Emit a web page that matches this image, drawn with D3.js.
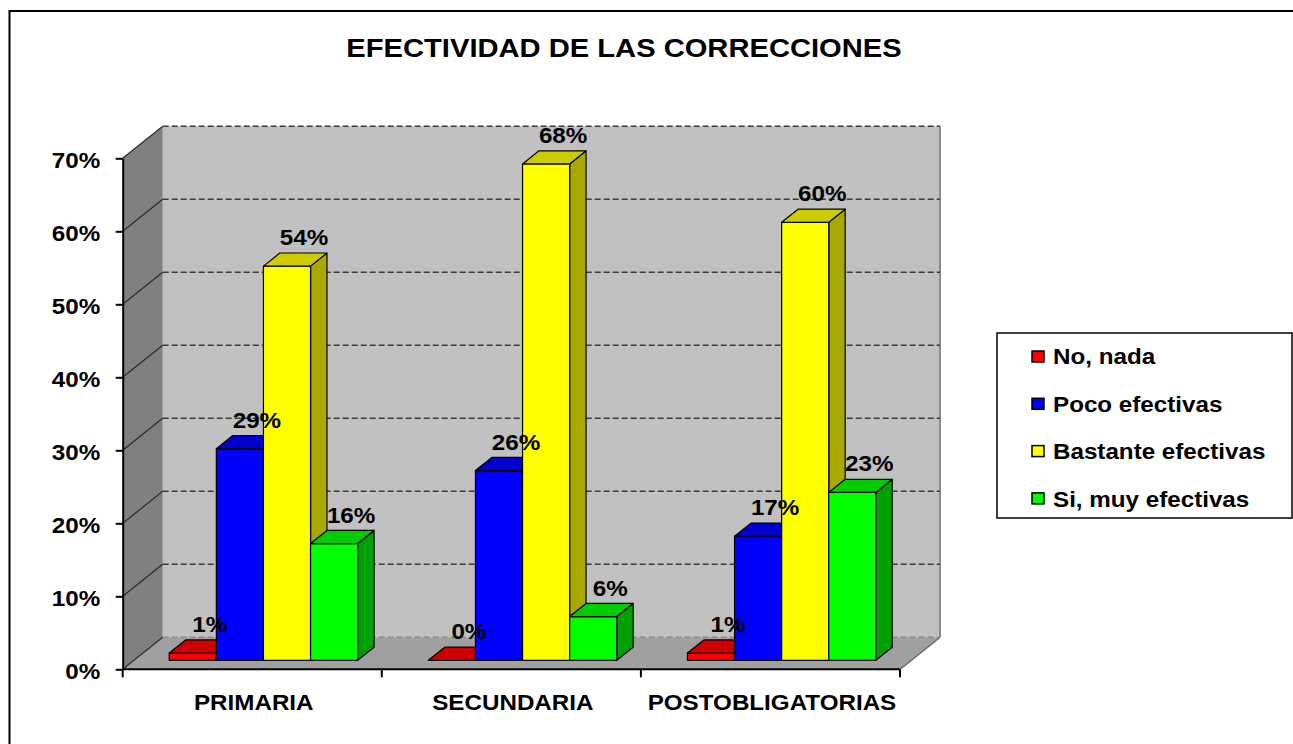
<!DOCTYPE html>
<html><head><meta charset="utf-8">
<script src="https://cdn.jsdelivr.net/npm/d3@7"></script>
<style>
body{margin:0;background:#fff;}
svg{display:block;}
text{font-family:"Liberation Sans",Arial,sans-serif;font-weight:bold;fill:#000;}
</style>
</head><body>
<svg id="c" width="1293" height="744"></svg>
<script>
// ---------- data ----------
const title = "EFECTIVIDAD DE LAS CORRECCIONES";
const categories = ["PRIMARIA", "SECUNDARIA", "POSTOBLIGATORIAS"];
const seriesNames = ["No, nada", "Poco efectivas", "Bastante efectivas", "Si, muy efectivas"];
const noNada = [0.01, 0.00, 0.01];
const pocoEfectivas = [0.29, 0.26, 0.17];
const bastanteEfectivas = [0.54, 0.68, 0.60];
const siMuyEfectivas = [0.16, 0.06, 0.23];
const yTicks = [0, 0.1, 0.2, 0.3, 0.4, 0.5, 0.6, 0.7];

// ---------- style ----------
const seriesValues = [noNada, pocoEfectivas, bastanteEfectivas, siMuyEfectivas];
const frontCol = ["#ff0000", "#0000ff", "#ffff00", "#00ff00"];
const topCol   = ["#cc0000", "#0000cc", "#cccc00", "#00cc00"];
const sideCol  = ["#a00000", "#0000a0", "#a8a800", "#00a000"];
const SX = 1.1; // horizontal text stretch

const svg = d3.select("#c");

// ---------- layout ----------
const X0 = 122.7, X1 = 900, Y0 = 669.3, Y1 = 158.3;
const DX = 40, DY = -32;          // wall depth
const F0 = 0.28, FT = 0.41;        // bar front depth fraction, bar thickness fraction
const bdx = DX * FT, bdy = DY * FT;

const x = d3.scaleBand().domain(categories).range([X0, X1]).paddingInner(0).paddingOuter(0);
const xs = d3.scaleBand().domain(seriesNames).range([0, x.bandwidth()]).paddingInner(0).paddingOuter(0.75);
const yFront = d3.scaleLinear().domain([0, 0.7]).range([Y0, Y1]);
const yBar = d3.scaleLinear().domain([0, 0.7]).range([Y0 + F0 * DY, Y1 + F0 * DY]);

function txt(g, tx, ty, s, size, anchor) {
  return g.append("text")
    .attr("transform", `translate(${tx},${ty}) scale(${SX},1)`)
    .attr("text-anchor", anchor)
    .style("font-size", size + "px")
    .text(s);
}
const pts = a => a.map(p => p.join(",")).join(" ");

// ---------- walls ----------
const yb0 = yFront(0) + DY, yb1 = yFront(0.7) + DY;
svg.append("rect").attr("x", X0 + DX).attr("y", yb1).attr("width", X1 - X0).attr("height", yb0 - yb1)
  .attr("fill", "#c0c0c0");
svg.append("polygon").attr("points", pts([[X0, yFront(0.7)], [X0 + DX, yb1], [X0 + DX, yb0], [X0, yFront(0)]]))
  .attr("fill", "#808080");
svg.append("polygon").attr("points", pts([[X0, Y0], [X1, Y0], [X1 + DX, Y0 + DY], [X0 + DX, Y0 + DY]]))
  .attr("fill", "#a0a0a0");
// back wall right edge
svg.append("line").attr("x1", X1 + DX).attr("x2", X1 + DX).attr("y1", yb1).attr("y2", yb0)
  .attr("stroke", "#8a8a8a").attr("stroke-width", 2);
// floor right edge
svg.append("line").attr("x1", X1).attr("y1", Y0).attr("x2", X1 + DX).attr("y2", Y0 + DY)
  .attr("stroke", "#707070").attr("stroke-width", 1.5);

// gridlines
const grid = svg.append("g");
yTicks.forEach(t => {
  const yf = yFront(t);
  grid.append("line").attr("x1", X0 + DX).attr("x2", X1 + DX).attr("y1", yf + DY).attr("y2", yf + DY)
    .attr("stroke", t === 0 ? "#8a8a8a" : "#3a3a3a").attr("stroke-width", 1.6).attr("stroke-dasharray", "6,3");
  grid.append("line").attr("x1", X0).attr("y1", yf).attr("x2", X0 + DX).attr("y2", yf + DY)
    .attr("stroke", "#2a2a2a").attr("stroke-width", 1.2);
});

// ---------- axes ----------
const yAxis = svg.append("g").attr("transform", `translate(${X0},0)`)
  .call(d3.axisLeft(yFront).tickValues(yTicks).tickFormat(d3.format(".0%")).tickSize(7).tickSizeOuter(0));
yAxis.select(".domain").attr("stroke", "#000").attr("stroke-width", 2);
yAxis.selectAll(".tick line").attr("stroke", "#000").attr("stroke-width", 2);
yAxis.selectAll(".tick text").attr("x", null).attr("dy", null).attr("fill", "#000")
  .attr("transform", `translate(-22.5,9.5) scale(${SX},1)`)
  .style("font-size", "22px").style("font-family", '"Liberation Sans",Arial,sans-serif').style("font-weight", "bold");

// category axis
svg.append("line").attr("x1", X0).attr("x2", X1).attr("y1", Y0).attr("y2", Y0)
  .attr("stroke", "#000").attr("stroke-width", 2);
categories.forEach((c, i) => {
  const edges = i === 0 ? [x(c), x(c) + x.bandwidth()] : [x(c) + x.bandwidth()];
  edges.forEach(e => svg.append("line").attr("x1", e).attr("x2", e).attr("y1", Y0).attr("y2", Y0 + 8)
    .attr("stroke", "#000").attr("stroke-width", 2));
});
const xAxis = svg.append("g").attr("transform", `translate(0,${Y0})`)
  .call(d3.axisBottom(x).tickSize(0));
xAxis.select(".domain").remove();
xAxis.selectAll(".tick text").attr("y", null).attr("dy", null).attr("fill", "#000")
  .attr("transform", `translate(1.5,40.7) scale(${SX},1)`)
  .style("font-size", "22px").style("font-family", '"Liberation Sans",Arial,sans-serif').style("font-weight", "bold");

// ---------- bars ----------
const bars = svg.append("g").attr("stroke", "#000").attr("stroke-width", 1.2).attr("stroke-linejoin", "round");
const labels = [];
categories.forEach((c, ci) => {
  seriesNames.forEach((s, si) => {
    const v = seriesValues[si][ci];
    const bx = x(c) + xs(s) + F0 * DX;
    const w = xs.bandwidth();
    const yt = yBar(v), ybt = yBar(0);
    const g = bars.append("g");
    // side
    g.append("polygon").attr("points", pts([[bx + w, yt], [bx + w + bdx, yt + bdy], [bx + w + bdx, ybt + bdy], [bx + w, ybt]]))
      .attr("fill", sideCol[si]);
    // front
    if (ybt - yt > 0) g.append("rect").attr("x", bx).attr("y", yt).attr("width", w).attr("height", ybt - yt)
      .attr("fill", frontCol[si]);
    // top
    g.append("polygon").attr("points", pts([[bx, yt], [bx + w, yt], [bx + w + bdx, yt + bdy], [bx + bdx, yt + bdy]]))
      .attr("fill", topCol[si]);
    labels.push({ x: bx + w / 2 + 17, y: yt - 21, t: d3.format(".0%")(v) });
  });
});
const lg = svg.append("g");
labels.forEach(l => txt(lg, l.x, l.y, l.t, 22, "middle"));

// ---------- legend ----------
const leg = svg.append("g");
leg.append("rect").attr("x", 997).attr("y", 333).attr("width", 295).attr("height", 185)
  .attr("fill", "#fff").attr("stroke", "#000").attr("stroke-width", 1.5);
seriesNames.forEach((s, i) => {
  leg.append("rect").attr("x", 1032).attr("y", 351 + i * 47.3).attr("width", 12).attr("height", 11)
    .attr("fill", frontCol[i]).attr("stroke", "#000").attr("stroke-width", 1.5);
  txt(leg, 1053, 364.3 + i * 47.4, s, 22, "start");
});

// ---------- title & frame ----------
txt(svg, 624, 57.3, title, 26.5, "middle");
svg.append("rect").attr("x", 9.5).attr("y", 11).attr("width", 1300).attr("height", 760)
  .attr("fill", "none").attr("stroke", "#000").attr("stroke-width", 2);
</script>
</body></html>
